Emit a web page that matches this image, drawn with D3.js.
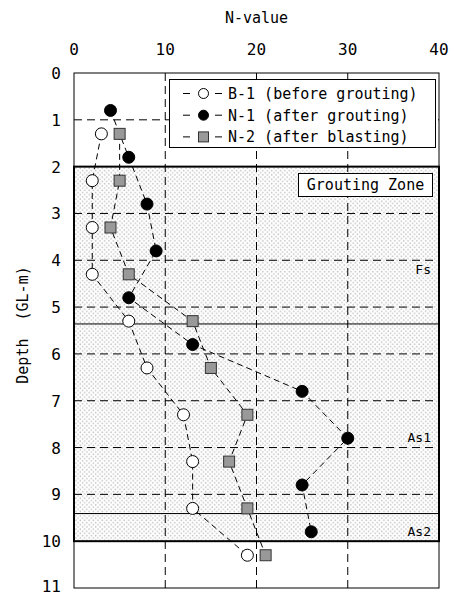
<!DOCTYPE html>
<html>
<head>
<meta charset="utf-8">
<script src="https://cdn.jsdelivr.net/npm/d3@7"></script>
<style>
  body { margin: 0; background: #fff; }
  text { font-family: "DejaVu Sans Mono", "Liberation Mono", monospace; fill: #000; }
</style>
</head>
<body>
<div id="chart"></div>
<script>
// depths (GL-m) and N-values
var depthB1 = [1.3, 2.3, 3.3, 4.3, 5.3, 6.3, 7.3, 8.3, 9.3, 10.3];
var nB1     = [3, 2, 2, 2, 6, 8, 12, 13, 13, 19];
var depthN1 = [0.8, 1.8, 2.8, 3.8, 4.8, 5.8, 6.8, 7.8, 8.8, 9.8];
var nN1     = [4, 6, 8, 9, 6, 13, 25, 30, 25, 26];
var depthN2 = [1.3, 2.3, 3.3, 4.3, 5.3, 6.3, 7.3, 8.3, 9.3, 10.3];
var nN2     = [5, 5, 4, 6, 13, 15, 19, 17, 19, 21];

var xTicks = [0, 10, 20, 30, 40];
var yTicks = [0, 1, 2, 3, 4, 5, 6, 7, 8, 9, 10, 11];
var gridDepths = [1, 3, 4, 5, 6, 7, 8, 9];
var zone = [2, 10];
var layerBounds = [5.36, 9.41];
var layerNames = ["Fs", "As1", "As2"];
var layerDepths = [4.2, 7.8, 9.8];
var seriesNames = ["B-1 (before grouting)", "N-1 (after grouting)", "N-2 (after blasting)"];

var W = 454, H = 596;
var margin = {top: 73, right: 15, bottom: 8, left: 74};
var width = W - margin.left - margin.right,
    height = H - margin.top - margin.bottom;

var svg = d3.select("#chart")
    .append("svg")
    .attr("width", W)
    .attr("height", H);

var x = d3.scaleLinear().domain([0, 40]).range([margin.left, margin.left + width]);
var y = d3.scaleLinear().domain([0, 11]).range([margin.top, margin.top + height]);

// dotted fill for the grouting zone
var pat = svg.append("defs").append("pattern")
    .attr("id", "dots")
    .attr("patternUnits", "userSpaceOnUse")
    .attr("width", 4.4).attr("height", 4.4);
pat.append("rect").attr("width", 4.4).attr("height", 4.4).attr("fill", "#fff");
pat.append("circle").attr("cx", 1.1).attr("cy", 1.1).attr("r", 0.8).attr("fill", "#c4c4c4");
pat.append("circle").attr("cx", 3.3).attr("cy", 3.3).attr("r", 0.8).attr("fill", "#c4c4c4");

svg.append("rect")
    .attr("x", x(0)).attr("y", y(zone[0]))
    .attr("width", x(40) - x(0)).attr("height", y(zone[1]) - y(zone[0]))
    .attr("fill", "url(#dots)");

// grid
svg.append("g").selectAll("line")
    .data([10, 20, 30])
    .enter().append("line")
    .attr("x1", d => x(d)).attr("x2", d => x(d))
    .attr("y1", y(0)).attr("y2", y(11))
    .attr("stroke", "#000").attr("stroke-width", 1)
    .attr("stroke-dasharray", "8,5");

svg.append("g").selectAll("line")
    .data(gridDepths)
    .enter().append("line")
    .attr("x1", x(0)).attr("x2", x(40))
    .attr("y1", d => y(d)).attr("y2", d => y(d))
    .attr("stroke", "#000").attr("stroke-width", 1)
    .attr("stroke-dasharray", "8,5");

// layer boundaries
svg.append("g").selectAll("line")
    .data(layerBounds)
    .enter().append("line")
    .attr("x1", x(0)).attr("x2", x(40))
    .attr("y1", d => y(d)).attr("y2", d => y(d))
    .attr("stroke", "#000").attr("stroke-width", 1);

// outer frame
svg.append("rect")
    .attr("x", x(0)).attr("y", y(0))
    .attr("width", x(40) - x(0)).attr("height", y(11) - y(0))
    .attr("fill", "none").attr("stroke", "#000").attr("stroke-width", 1);

// grouting zone frame
svg.append("rect")
    .attr("x", x(0)).attr("y", y(zone[0]))
    .attr("width", x(40) - x(0)).attr("height", y(zone[1]) - y(zone[0]))
    .attr("fill", "none").attr("stroke", "#000").attr("stroke-width", 2);

// axes text
svg.append("g").selectAll("text")
    .data(xTicks)
    .enter().append("text")
    .attr("x", d => x(d)).attr("y", 55)
    .attr("text-anchor", "middle")
    .style("font-size", "16px")
    .text(d => d);

svg.append("g").selectAll("text")
    .data(yTicks)
    .enter().append("text")
    .attr("x", 61).attr("y", d => Math.min(y(d) + 6, 592))
    .attr("text-anchor", "end")
    .style("font-size", "16px")
    .text(d => d);

svg.append("text")
    .attr("x", x(20)).attr("y", 23)
    .attr("text-anchor", "middle")
    .style("font-size", "15px")
    .text("N-value");

svg.append("text")
    .attr("transform", "translate(28,325) rotate(-90)")
    .attr("text-anchor", "middle")
    .style("font-size", "15px")
    .style("white-space", "pre")
    .text("Depth  (GL-m)");

// series
function series(depths, vals) {
    return depths.map((d, i) => ({depth: d, n: vals[i]}));
}
var line = d3.line().x(d => x(d.n)).y(d => y(d.depth));
var all = [series(depthB1, nB1), series(depthN1, nN1), series(depthN2, nN2)];

svg.append("g").selectAll("path")
    .data(all)
    .enter().append("path")
    .attr("d", line)
    .attr("fill", "none").attr("stroke", "#000").attr("stroke-width", 1)
    .attr("stroke-dasharray", "6,4");

function drawMarker(g, k, cx, cy) {
    if (k === 2) {
        g.append("rect")
            .attr("x", cx - 5.5).attr("y", cy - 5.5)
            .attr("width", 11).attr("height", 11)
            .attr("fill", "#999").attr("stroke", "#333").attr("stroke-width", 1);
    } else {
        g.append("circle")
            .attr("cx", cx).attr("cy", cy).attr("r", 6)
            .attr("fill", k === 0 ? "#fff" : "#000")
            .attr("stroke", "#000").attr("stroke-width", 1);
    }
}

var markers = svg.append("g");
all.forEach(function(s, k) {
    s.forEach(function(d) { drawMarker(markers, k, x(d.n), y(d.depth)); });
});

// layer names
svg.append("g").selectAll("text")
    .data(layerNames)
    .enter().append("text")
    .attr("x", 431).attr("y", (d, i) => y(layerDepths[i]) + 4)
    .attr("text-anchor", "end")
    .style("font-size", "13px")
    .text(d => d);

// grouting zone label
svg.append("rect")
    .attr("x", 298.5).attr("y", 173.5).attr("width", 134).attr("height", 23)
    .attr("fill", "#fff").attr("stroke", "#000").attr("stroke-width", 1);
svg.append("text")
    .attr("x", 365.5).attr("y", 190)
    .attr("text-anchor", "middle")
    .style("font-size", "15px")
    .text("Grouting Zone");

// legend
var leg = svg.append("g");
leg.append("rect")
    .attr("x", 169.5).attr("y", 79.5).attr("width", 266).attr("height", 68)
    .attr("fill", "#fff").attr("stroke", "#000").attr("stroke-width", 1);
seriesNames.forEach(function(name, k) {
    var ly = 93.5 + k * 21.7;
    leg.append("line").attr("x1", 183).attr("x2", 190).attr("y1", ly).attr("y2", ly)
        .attr("stroke", "#000");
    leg.append("line").attr("x1", 215).attr("x2", 222).attr("y1", ly).attr("y2", ly)
        .attr("stroke", "#000");
    if (k === 2) {
        leg.append("rect").attr("x", 198.5).attr("y", ly - 5).attr("width", 10).attr("height", 10)
            .attr("fill", "#999").attr("stroke", "#333");
    } else {
        leg.append("circle").attr("cx", 203.5).attr("cy", ly).attr("r", 5)
            .attr("fill", k === 0 ? "#fff" : "#000").attr("stroke", "#000");
    }
    leg.append("text")
        .attr("x", 228).attr("y", ly + 5.5)
        .style("font-size", "15px")
        .text(name);
});
</script>
</body>
</html>
